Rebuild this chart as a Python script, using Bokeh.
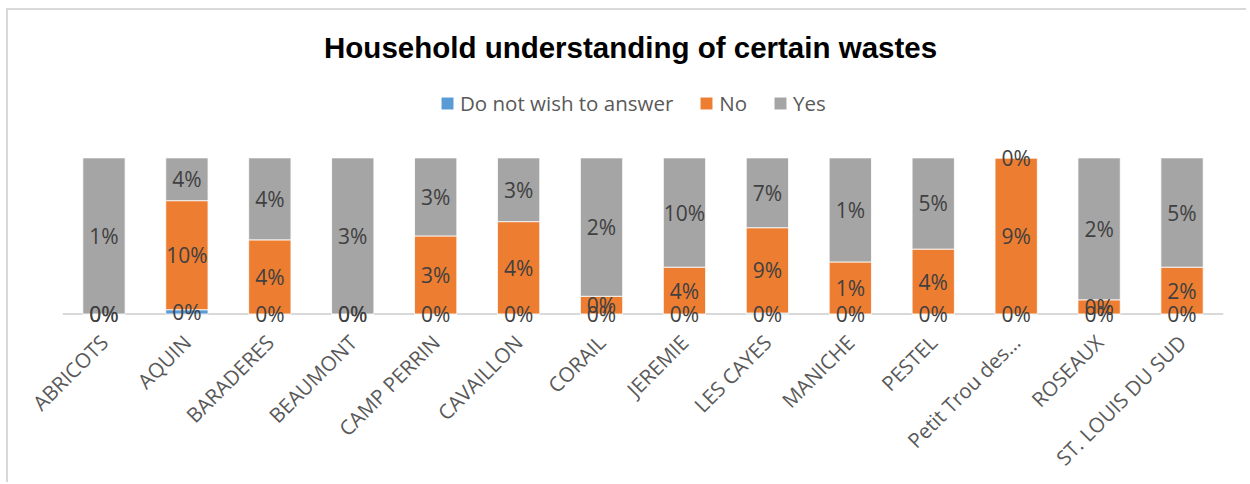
import math
from bokeh.plotting import figure
from bokeh.models import ColumnDataSource, FactorRange, Range1d, Legend, LegendItem, Span, Label
from bokeh.core.properties import value
from bokeh.embed import file_html
from bokeh.resources import INLINE

# ---- data (percent of all respondents, as shown by the data labels) ----
categories = ["ABRICOTS", "AQUIN", "BARADERES", "BEAUMONT", "CAMP PERRIN", "CAVAILLON",
              "CORAIL", "JEREMIE", "LES CAYES", "MANICHE", "PESTEL", "Petit Trou des...",
              "ROSEAUX", "ST. LOUIS DU SUD"]
do_not_wish = [0.0, 0.4, 0.0, 0.0, 0.0, 0.0, 0.0, 0.0, 0.1, 0.0, 0.0, 0.0, 0.0, 0.0]
no_vals = [0.0, 10.2, 3.8, 0.0, 3.0, 4.2, 0.25, 4.2, 8.8, 0.6, 3.7, 9.0, 0.2, 2.1]
yes_vals = [1.0, 4.0, 4.2, 3.0, 3.0, 2.9, 1.95, 9.8, 7.2, 1.2, 5.2, 0.0, 2.0, 4.9]
series_names = ["Do not wish to answer", "No", "Yes"]
series_colors = ["#5B9BD5", "#ED7D31", "#A5A5A5"]
title_text = "Household understanding of certain wastes"

series = [do_not_wish, no_vals, yes_vals]
totals = [sum(s[i] for s in series) for i in range(len(categories))]

p = figure(width=1240, height=474, x_range=FactorRange(*categories),
           y_range=Range1d(-0.080, 1.944), output_backend="svg", toolbar_location=None,
           min_border_left=54, min_border_right=25, min_border_top=0, min_border_bottom=158,
           title=None)
p.styles = {"border-top": "2px solid #D9D9D9", "border-left": "2px solid #D9D9D9",
            "margin-left": "6px", "margin-top": "8px"}
p.outline_line_color = None
p.xgrid.visible = False
p.ygrid.visible = False
p.yaxis.visible = False

base = Span(location=0, dimension="width", line_color="#D9D9D9", line_width=2, level="underlay")
p.add_layout(base)

cum = [0.0] * len(categories)
renderers = []
label_sources = []
for name, vals, col in zip(series_names, series, series_colors):
    bottoms = list(cum)
    tops = [cum[i] + vals[i] / totals[i] for i in range(len(categories))]
    mids = [(b + t) / 2 for b, t in zip(bottoms, tops)]
    labels = ["%d%%" % int(math.floor(v + 0.5)) for v in vals]
    src = ColumnDataSource(dict(x=categories, bottom=bottoms, top=tops, mid=mids, label=labels))
    r = p.vbar(x="x", bottom="bottom", top="top", width=0.51, source=src,
               fill_color=col, line_color="white", line_width=0.8)
    renderers.append(r)
    label_sources.append(src)
    cum = tops

for src in label_sources:
    p.text(x="x", y="mid", text="label", source=src, text_align="center",
           text_baseline="middle", text_font=value("Open Sans"), text_font_size="21px",
           text_color="#404040")

ax = p.xaxis[0]
ax.axis_line_color = None
ax.major_tick_line_color = None
ax.minor_tick_line_color = None
ax.major_tick_out = 0
ax.major_tick_in = 0
ax.major_label_orientation = math.pi / 4
ax.major_label_standoff = 12
ax.major_label_text_font = "Open Sans"
ax.major_label_text_font_size = "20.5px"
ax.major_label_text_color = "#595959"

legend = Legend(items=[LegendItem(label=n, renderers=[r]) for n, r in zip(series_names, renderers)],
                orientation="horizontal", location=(377, 209),
                glyph_width=16, glyph_height=16, label_standoff=5, spacing=25,
                label_text_font="Open Sans", label_text_font_size="20.5px",
                label_text_color="#595959", border_line_color=None,
                background_fill_alpha=0, padding=0, margin=0)
p.add_layout(legend, "center")

p.add_layout(Label(x=6.85, y=1.708, text=title_text, text_align="center",
                   text_baseline="middle", text_font="Liberation Sans",
                   text_font_size="29.5px", text_font_style="bold", text_color="black"))

open("out.html", "w").write(file_html(p, INLINE))
